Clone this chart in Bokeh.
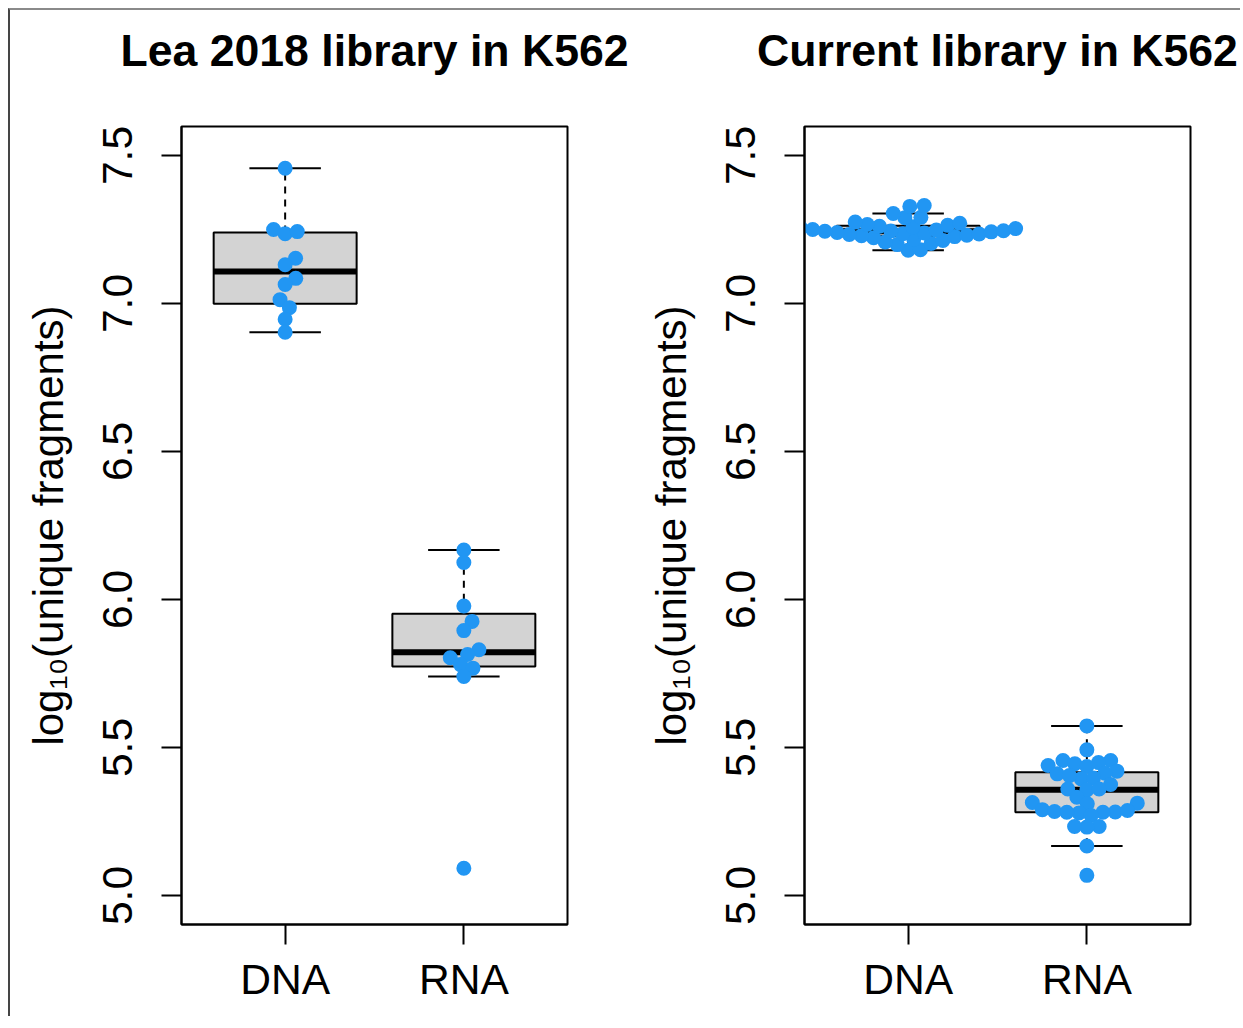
import numpy as np
from bokeh.plotting import figure
from bokeh.layouts import row
from bokeh.models import FixedTicker, PrintfTickFormatter, Title
from bokeh.embed import file_html
from bokeh.resources import INLINE

# ---- data -----------------------------------------------------------------
groups = ["DNA", "RNA"]
titles = ["Lea 2018 library in K562", "Current library in K562"]
y_ticks = [5.0, 5.5, 6.0, 6.5, 7.0, 7.5]
y_title = "log\u2081\u2080(unique fragments)"

# log10 unique fragments per replicate
lea_dna = [7.457, 7.250, 7.236, 7.243, 7.153, 7.131, 7.085, 7.064,
           7.013, 6.986, 6.947, 6.903]
lea_rna = [6.167, 6.125, 5.978, 5.926, 5.895, 5.830, 5.814, 5.803,
           5.780, 5.768, 5.740, 5.092]
cur_dna = [7.180, 7.182, 7.199, 7.203, 7.208, 7.213, 7.217, 7.222, 7.226,
           7.229, 7.231, 7.233, 7.235, 7.236, 7.238, 7.240, 7.242, 7.244,
           7.245, 7.246, 7.248, 7.250, 7.253, 7.256, 7.259, 7.261, 7.264,
           7.267, 7.271, 7.275, 7.290, 7.291, 7.304, 7.328, 7.331]
cur_rna = [5.573, 5.492, 5.456, 5.449, 5.439, 5.456, 5.445, 5.436, 5.420,
           5.413, 5.411, 5.394, 5.405, 5.397, 5.375, 5.357, 5.360, 5.360,
           5.332, 5.312, 5.314, 5.310, 5.290, 5.284, 5.282, 5.281, 5.279,
           5.270, 5.281, 5.287, 5.233, 5.231, 5.233, 5.167, 5.068]

panels = [(titles[0], [lea_dna, lea_rna]), (titles[1], [cur_dna, cur_rna])]

# ---- geometry / style -----------------------------------------------------
FONT = "Liberation Sans"
DOT = "#2196F3"
X_RANGE = (0.42, 2.58)
Y_RANGE = (4.902, 7.598)
FRAME_W, FRAME_H = 386, 798
LEFT, TOP, BOTTOM = 171, 116, 92
SWARM_PX = 12.3      # footprint of one point in the swarm, px
BOX_HALF = 0.4
CAP_HALF = 0.2


def fivenum(v):
    x = np.sort(np.asarray(v, float))
    n = len(x)
    n4 = np.floor((n + 3) / 2) / 2
    d = np.array([1, n4, (n + 1) / 2, n + 1 - n4, n]) - 1
    return 0.5 * (x[np.floor(d).astype(int)] + x[np.ceil(d).astype(int)])


def box_stats(v):
    v = np.asarray(v, float)
    s = fivenum(v)
    iqr = s[3] - s[1]
    inside = v[(v >= s[1] - 1.5 * iqr) & (v <= s[3] + 1.5 * iqr)]
    s[0], s[4] = inside.min(), inside.max()
    return s


def swarm_offsets(vals, dsize, gsize):
    """Beeswarm 'swarm' placement, ascending priority."""
    v = np.asarray(vals, float)
    order = np.argsort(v, kind="stable")
    xs = v[order] / dsize
    ys = np.zeros(len(xs))
    for i in range(1, len(xs)):
        xi = xs[i]
        near = np.abs(xi - xs[:i]) < 1
        if not near.any():
            continue
        px, py = xs[:i][near], ys[:i][near]
        off = np.sqrt(1 - (xi - px) ** 2)
        cand = np.concatenate([[0.0], py + off, py - off])
        ok = np.array([not np.any((xi - px) ** 2 + (c - py) ** 2 < 0.999)
                       for c in cand])
        cand = np.where(ok, cand, np.inf)
        ys[i] = cand[np.argmin(np.abs(cand))]
    out = np.empty(len(v))
    out[order] = ys * gsize
    return out


px_per_x = FRAME_W / (X_RANGE[1] - X_RANGE[0])
px_per_y = FRAME_H / (Y_RANGE[1] - Y_RANGE[0])

figs = []
for k, (title, series) in enumerate(panels):
    right = 66 if k == 0 else 50
    p = figure(frame_width=FRAME_W, frame_height=FRAME_H,
               x_range=X_RANGE, y_range=Y_RANGE,
               min_border_left=LEFT, min_border_right=right,
               min_border_top=TOP, min_border_bottom=BOTTOM,
               output_backend="svg", toolbar_location=None)
    # a blank spacer next to the frame lifts the title into the margin
    p.add_layout(Title(text=" ", text_font_size="10px", standoff=27),
                 "above")
    p.add_layout(Title(text=title, align="center", text_font=FONT,
                       text_font_size="44.6px", text_font_style="bold",
                       text_color="black", standoff=24), "above")

    p.grid.visible = False
    p.outline_line_color = "black"
    p.outline_line_width = 2
    p.background_fill_color = "white"
    p.border_fill_color = "white"

    for ax in (p.xaxis[0], p.yaxis[0]):
        ax.axis_line_color = "black"
        ax.axis_line_width = 2
        ax.major_tick_line_color = "black"
        ax.major_tick_line_width = 2
        ax.major_tick_out = 20
        ax.major_tick_in = 0
        ax.minor_tick_line_color = None
        ax.major_label_text_font = FONT
        ax.major_label_text_font_size = "42.6px"
        ax.major_label_text_color = "black"

    p.xaxis.ticker = FixedTicker(ticks=[1, 2])
    p.xaxis.major_label_overrides = {1: groups[0], 2: groups[1]}
    p.xaxis.major_label_standoff = 10
    p.yaxis.ticker = FixedTicker(ticks=y_ticks)
    p.yaxis.formatter = PrintfTickFormatter(format="%.1f")
    p.yaxis.major_label_orientation = "vertical"
    p.yaxis.major_label_standoff = 29
    p.yaxis.axis_label = y_title
    p.yaxis.axis_label_text_font = FONT
    p.yaxis.axis_label_text_font_size = "42px"
    p.yaxis.axis_label_text_font_style = "normal"
    p.yaxis.axis_label_text_color = "black"
    p.yaxis.axis_label_standoff = 29

    for gi, vals in enumerate(series):
        g = gi + 1
        lo, q1, med, q3, hi = box_stats(vals)
        # whiskers
        p.segment(x0=[g, g], y0=[q3, q1], x1=[g, g], y1=[hi, lo],
                  line_color="black", line_width=2, line_dash="7 6")
        p.segment(x0=[g - CAP_HALF] * 2, y0=[hi, lo],
                  x1=[g + CAP_HALF] * 2, y1=[hi, lo],
                  line_color="black", line_width=2)
        # box and median
        p.quad(left=g - BOX_HALF, right=g + BOX_HALF, bottom=q1, top=q3,
               fill_color="#D3D3D3", line_color="black", line_width=2)
        p.segment(x0=g - BOX_HALF, y0=med, x1=g + BOX_HALF, y1=med,
                  line_color="black", line_width=6, line_cap="butt")
        # swarm of replicate points
        offs = swarm_offsets(vals, SWARM_PX / px_per_y, SWARM_PX / px_per_x)
        p.scatter(x=g + offs, y=vals, size=15, fill_color=DOT,
                  line_color=None)
    figs.append(p)

layout = row(*figs, margin=(8, 0, 0, 8),
             styles={"border-top": "2px solid #8a8a8a",
                     "border-left": "2px solid #454545"})

with open("out.html", "w") as f:
    f.write(file_html(layout, INLINE))
